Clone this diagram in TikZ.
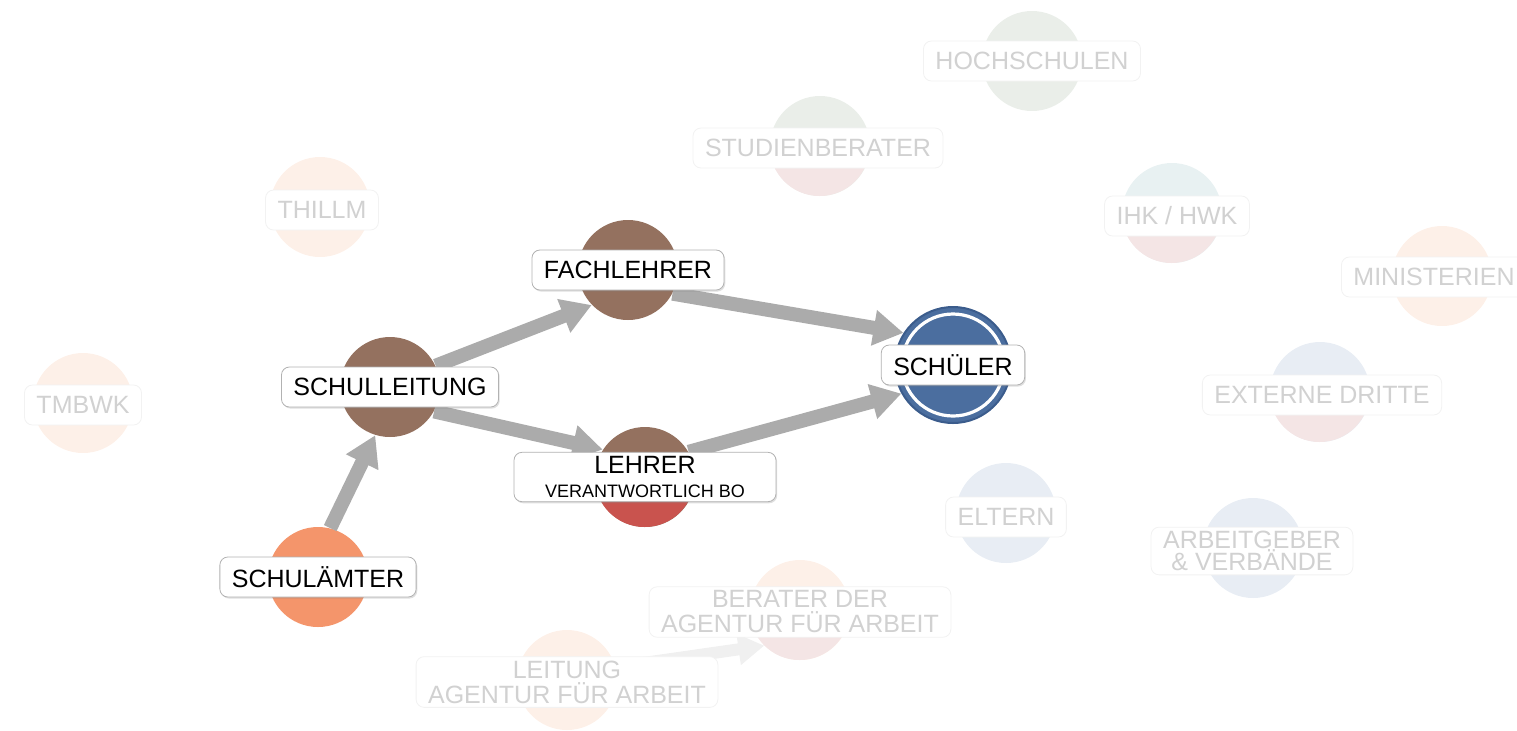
\documentclass[tikz,border=0pt]{standalone}
\usepackage{fontspec}
\setmainfont{Liberation Sans}
\usepackage{tikz}
\usetikzlibrary{arrows.meta,shadows}
\definecolor{braun}{HTML}{94715F}
\definecolor{lehrerrot}{HTML}{C9534E}
\definecolor{orangeamt}{HTML}{F4956B}
\definecolor{schuelerblau}{HTML}{4B6E9F}
\definecolor{blaurand}{HTML}{3B5C8C}
\definecolor{pfirsich}{HTML}{FDF0E8}
\definecolor{blassgruen}{HTML}{EAEEE9}
\definecolor{blassrosa}{HTML}{F4E5E5}
\definecolor{blassblau}{HTML}{E8EDF4}
\definecolor{blasstuerkis}{HTML}{E8F1F2}

\begin{document}
\begin{tikzpicture}[x=0.5pt,y=-0.5pt]
	\tikzstyle{kreis} = [circle, minimum size=50pt, inner sep=0pt]
	\tikzstyle{schild} = [rectangle, rounded corners=4pt, fill=white, inner xsep=6pt, inner ysep=2pt, minimum height=20pt, align=center, font=\fontsize{12.5}{12}\selectfont]
	\tikzstyle{haupt} = [schild, draw=black!30, drop shadow={shadow xshift=0.6pt, shadow yshift=-0.8pt, opacity=0.25}]
	\tikzstyle{blass} = [schild, draw=black!5, text=black!18, font=\fontsize{12.5}{11}\selectfont]
	\tikzstyle{pfeil} = [line width=7pt, draw=black!33, -{Triangle[length=15pt,width=17pt]}]
\useasboundingbox (0,0) rectangle (1517,730);

% blasse Knoten
\node[kreis, fill=blassgruen] (5) at (1032, 61) {};
\node[kreis, fill=blassgruen] (6) at (820, 146) {};
\node[kreis, fill=pfirsich] (7) at (320, 207) {};
\node[kreis, fill=blasstuerkis] (8) at (1172, 213) {};
\node[kreis, fill=pfirsich] (9) at (1442, 276) {};
\node[kreis, fill=pfirsich] (10) at (83, 403) {};
\node[kreis, fill=blassblau] (11) at (1320, 392) {};
\node[kreis, fill=blassblau] (12) at (1006, 513) {};
\node[kreis, fill=blassblau] (13) at (1253, 548) {};
\node[kreis, fill=pfirsich] (14) at (800, 610) {};
\node[kreis, fill=pfirsich] (15) at (567, 680) {};
\foreach \n/\farbe in {6/blassrosa, 8/blassrosa, 11/blassrosa, 14/blassrosa}
	\fill[\farbe] (\n.west) arc[start angle=180, end angle=360, radius=25pt] -- cycle;

\path[draw, line width=6pt, draw=black!6, -{Triangle[length=13pt,width=15pt]}] (15.15) -- (14.225);

\node[blass] (l5) at (5) {HOCHSCHULEN};
\node[blass] (l6) at (818, 148) {STUDIENBERATER};
\node[blass] (l7) at (322, 210) {THILLM};
\node[blass] (l8) at (1177, 216) {IHK / HWK};
\node[blass] (l9) at (1434, 277) {MINISTERIEN};
\node[blass] (l10) at (83, 405) {TMBWK};
\node[blass] (l11) at (1322, 395) {EXTERNE DRITTE};
\node[blass] (l12) at (1006, 517) {ELTERN};
\node[blass] (l13) at (1252, 551) {ARBEITGEBER\\\& VERBÄNDE};
\node[blass, font=\fontsize{12.5}{12.5}\selectfont] (l14) at (800, 612) {BERATER DER\\AGENTUR FÜR ARBEIT};
\node[blass, font=\fontsize{12.5}{12.5}\selectfont] (l15) at (567, 682) {LEITUNG\\AGENTUR FÜR ARBEIT};

% Hauptknoten
\node[kreis, fill=orangeamt] (0) at (318, 577) {};
\node[kreis, fill=braun] (1) at (390, 387) {};
\node[kreis, fill=braun] (2) at (628, 270) {};
\node[kreis, fill=braun] (3) at (645, 477) {};
\node[kreis, fill=schuelerblau, draw=blaurand, line width=1pt, minimum size=58pt] (4) at (953, 365) {};
\fill[lehrerrot] (3.west) arc[start angle=180, end angle=360, radius=25pt] -- cycle;
\draw[white, line width=1.6pt] (4) circle[radius=25.5pt];

	\path[pfeil] (0.76) -- (1.253);
	\path[pfeil] (1.25) -- (2.224);
	\path[pfeil] (1.331) -- (3.147);
	\path[pfeil] (2.332) -- (4.147);
	\path[pfeil] (3.30) -- (4.209);

\node[haupt] (l0) at (0) {SCHULÄMTER};
\node[haupt] (l1) at (1) {SCHULLEITUNG};
\node[haupt] (l2) at (2) {FACHLEHRER};
\node[haupt, minimum width=131pt, minimum height=24pt] (l3) at (3) {LEHRER\\{\fontsize{9}{9}\selectfont VERANTWORTLICH BO}};
\node[haupt] (l4) at (4) {SCHÜLER};
\end{tikzpicture}
\end{document}
